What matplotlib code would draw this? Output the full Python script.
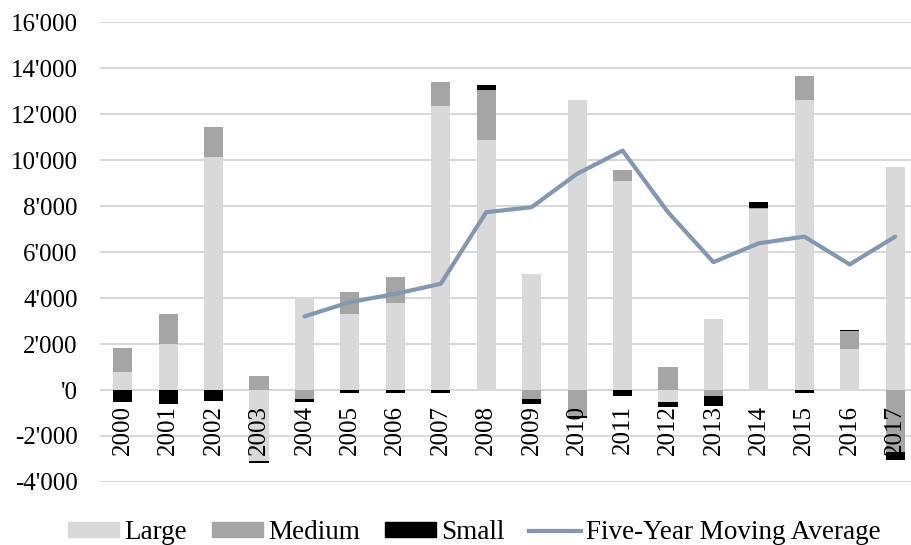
import numpy as np
import matplotlib.pyplot as plt
from matplotlib.patches import Patch
from matplotlib.lines import Line2D
from matplotlib.ticker import FuncFormatter

plt.rcParams['font.family'] = ['Liberation Serif', 'DejaVu Serif']

# Data
years = [str(y) for y in range(2000, 2018)]
large = [780, 2000, 10150, -3070, 4010, 3320, 3780, 12350, 10850, 5050,
         12600, 9100, -500, 3080, 7880, 12600, 1800, 9700]
medium = [1030, 1310, 1280, 630, -400, 920, 1150, 1050, 2200, -400,
          -1150, 470, 980, -250, 50, 1050, 750, -2700]
small = [-500, -630, -490, -110, -100, -120, -120, -120, 230, -220,
         -50, -280, -250, -450, 250, -130, 80, -330]
ma_years = years[4:]
moving_avg = [3200, 3820, 4180, 4620, 7730, 7950, 9400, 10410, 7730,
              5560, 6380, 6670, 5460, 6670]

C_LARGE = '#d9d9d9'
C_MEDIUM = '#a5a5a5'
C_SMALL = '#000000'
C_LINE = '#8497b0'

fig = plt.figure(figsize=(9.12, 5.45), dpi=100)
ax = fig.add_axes([0.1096, 0.1156, 0.8904, 0.844])

x = np.arange(len(years))
pos_base = np.zeros(len(years))
neg_base = np.zeros(len(years))
for vals, col in [(large, C_LARGE), (medium, C_MEDIUM), (small, C_SMALL)]:
    v = np.array(vals, dtype=float)
    bottom = np.where(v >= 0, pos_base, neg_base)
    ax.bar(x, v, width=0.42, bottom=bottom, color=col, zorder=2)
    pos_base = pos_base + np.clip(v, 0, None)
    neg_base = neg_base + np.clip(v, None, 0)

ma_x = [years.index(y) for y in ma_years]
ax.plot(ma_x, moving_avg, color=C_LINE, lw=3.0, zorder=3,
        solid_capstyle='round', solid_joinstyle='round')

ax.set_xlim(-0.5, 17.37)
ax.set_ylim(-4000, 16000)
ax.set_yticks(np.arange(-4000, 16001, 2000))
ax.yaxis.set_major_formatter(FuncFormatter(
    lambda v, p: "'0" if v == 0 else f"{v:,.0f}".replace(',', "'")))
ax.tick_params(axis='y', length=0, pad=16, labelsize=18)
ax.set_xticks([])
ax.grid(axis='y', color='#d9d9d9', lw=1.5, zorder=0)
for s in ax.spines.values():
    s.set_visible(False)

for i, yr in enumerate(years):
    ax.annotate(yr, xy=(i, 0), xytext=(0, -11), textcoords='offset points',
                rotation=90, ha='center', va='top', fontsize=18, zorder=4)

handles = [Patch(color=C_LARGE), Patch(color=C_MEDIUM), Patch(color=C_SMALL),
           Line2D([], [], color=C_LINE, lw=3.0)]
fig.legend(handles, ['Large', 'Medium', 'Small', 'Five-Year Moving Average'],
           loc='lower center', bbox_to_anchor=(0.52, -0.045), ncol=4,
           frameon=False, fontsize=19.5, handlelength=1.9, handleheight=0.45,
           handletextpad=0.2, columnspacing=0.9)

plt.savefig('out.png', dpi=100)
